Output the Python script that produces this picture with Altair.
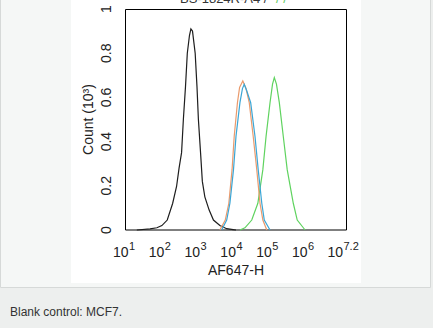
import altair as alt
import pandas as pd
import math

# ---- data (x in log10 units of AF647-H, y = count x10^3)
black_x = [1.33, 1.70, 1.89, 2.03, 2.18, 2.33, 2.44, 2.51, 2.58, 2.63, 2.69, 2.74, 2.80, 2.84,
           2.885, 2.96, 3.01, 3.05, 3.11, 3.16, 3.23, 3.35, 3.47, 3.65, 3.84, 4.02, 4.10]
black_y = [0.0, 0.005, 0.01, 0.02, 0.045, 0.12, 0.197, 0.28, 0.35, 0.5, 0.65, 0.80, 0.88, 0.91,
           0.90, 0.80, 0.65, 0.5, 0.35, 0.22, 0.15, 0.09, 0.045, 0.02, 0.006, 0.002, 0.0]

orange_x = [3.65, 3.80, 3.90, 3.99, 4.05, 4.14, 4.20, 4.29, 4.38, 4.47, 4.58, 4.68, 4.77, 4.85, 4.96]
orange_y = [0.0, 0.045, 0.121, 0.273, 0.424, 0.576, 0.645, 0.674, 0.64, 0.576, 0.424, 0.273, 0.121, 0.045, 0.0]

blue_x = [3.70, 3.84, 3.93, 4.03, 4.10, 4.21, 4.28, 4.33, 4.40, 4.51, 4.63, 4.72, 4.82, 4.89, 5.05]
blue_y = [0.0, 0.045, 0.121, 0.273, 0.424, 0.576, 0.64, 0.659, 0.63, 0.576, 0.424, 0.273, 0.121, 0.045, 0.0]

green_x = [4.21, 4.35, 4.54, 4.71, 4.85, 4.94, 5.05, 5.12, 5.17, 5.23, 5.31, 5.42, 5.53, 5.70, 5.81, 6.03]
green_y = [0.0, 0.01, 0.045, 0.121, 0.273, 0.424, 0.576, 0.66, 0.69, 0.66, 0.576, 0.424, 0.273, 0.121, 0.045, 0.0]

series_names = ["blank", "green", "orange", "blue"]
series_colors = ["#1e1e1e", "#5fd35f", "#ea9a6c", "#3aa6d6"]

x_tick_pos = [1, 2, 3, 4, 5, 6, 7.2]
x_tick_exp = ["1", "2", "3", "4", "5", "6", "7.2"]
y_tick_val = [0, 0.2, 0.4, 0.6, 0.8, 1]
y_tick_lab = ["0", "0.2", "0.4", "0.6", "0.8", "1"]

x_title = "AF647-H"
y_title = "Count (10³)"
caption = "Blank control: MCF7."
top_dark = "BS-1824R-A4 /"
top_green = "/ /"

FONT = "Liberation Sans"
W, H = 222, 221

rows = []
for name, xs, ys in [("blank", black_x, black_y), ("green", green_x, green_y),
                     ("orange", orange_x, orange_y), ("blue", blue_x, blue_y)]:
    for i, (a, b) in enumerate(zip(xs, ys)):
        rows.append({"series": name, "x": a, "y": b, "i": i})
curves = pd.DataFrame(rows)

x_major = [1, 2, 3, 4, 5, 6, 7, 7.2]
x_minor = [n + math.log10(k) for n in range(1, 7) for k in range(2, 10)]
y_ticks = [round(i * 0.04, 2) for i in range(26)]

xscale = alt.Scale(domain=[1, 7.2], nice=False, zero=False)
yscale = alt.Scale(domain=[0, 1], nice=False, zero=False)

one = pd.DataFrame({"a": [0]})

panel = alt.Chart(one).mark_rect(fill="#f5f7f6", stroke="#d6d9d8", strokeWidth=1).encode(
    x=alt.value(-124.5), x2=alt.value(305.5), y=alt.value(-20), y2=alt.value(278.5))
white = alt.Chart(one).mark_rect(fill="#ffffff").encode(
    x=alt.value(-54), x2=alt.value(236), y=alt.value(-20), y2=alt.value(274))
frame = alt.Chart(one).mark_rect(filled=False, stroke="black", strokeWidth=1).encode(
    x=alt.value(0.5), x2=alt.value(W - 0.5), y=alt.value(0.5), y2=alt.value(H))

lines = alt.Chart(curves).mark_line(strokeWidth=1.2).encode(
    x=alt.X("x:Q", scale=xscale, axis=alt.Axis(
        values=x_major + x_minor, labels=False, title=None, grid=False,
        domainColor="black", tickColor="black", zindex=1,
        tickSize={"condition": {"test": "abs(datum.value - round(datum.value)) < 0.001 || datum.value > 7.1",
                                "value": 6}, "value": 3})),
    y=alt.Y("y:Q", scale=yscale, axis=alt.Axis(
        values=y_ticks, labels=False, title=None, grid=False,
        domainColor="black", tickColor="black", zindex=1,
        tickSize={"condition": {"test": "abs(datum.value * 5 - round(datum.value * 5)) < 0.001",
                                "value": 6}, "value": 3})),
    color=alt.Color("series:N", scale=alt.Scale(domain=series_names, range=series_colors), legend=None),
    order="i:Q",
)

xl = pd.DataFrame({"pos": x_tick_pos, "sup": x_tick_exp})
xl_single = alt.Chart(xl).transform_filter("datum.sup != '7.2'")
xl_last = alt.Chart(xl).transform_filter("datum.sup == '7.2'")
enc_x = alt.X("pos:Q", scale=xscale, axis=None)

ten1 = xl_single.mark_text(align="right", dx=3.5, fontSize=14, font=FONT, color="#222").encode(
    x=enc_x, y=alt.value(H + 23), text=alt.value("10"))
sup1 = xl_single.mark_text(align="left", dx=4, fontSize=11, font=FONT, color="#222").encode(
    x=enc_x, y=alt.value(H + 16.5), text="sup:N")
ten2 = xl_last.mark_text(align="right", dx=-4, fontSize=14, font=FONT, color="#222").encode(
    x=enc_x, y=alt.value(H + 23), text=alt.value("10"))
sup2 = xl_last.mark_text(align="left", dx=-3.5, fontSize=11, font=FONT, color="#222").encode(
    x=enc_x, y=alt.value(H + 16.5), text="sup:N")

yl = pd.DataFrame({"val": y_tick_val, "lab": y_tick_lab})
ylabels = alt.Chart(yl).mark_text(angle=270, align="center", baseline="alphabetic",
                                  fontSize=14, font=FONT, color="#222").encode(
    x=alt.value(-14.5), y=alt.Y("val:Q", scale=yscale, axis=None), text="lab:N")

ytitle = alt.Chart(one).mark_text(angle=270, align="center", baseline="alphabetic",
                                  fontSize=14, font=FONT, color="#222").encode(
    x=alt.value(-32), y=alt.value(H / 2), text=alt.value(y_title))
xtitle = alt.Chart(one).mark_text(align="center", baseline="alphabetic",
                                  fontSize=14, font=FONT, color="#222").encode(
    x=alt.value(W / 2), y=alt.value(266), text=alt.value(x_title))
cap = alt.Chart(one).mark_text(align="left", baseline="alphabetic",
                               fontSize=12, font=FONT, color="#333").encode(
    x=alt.value(-115), y=alt.value(306.5), text=alt.value(caption))
top1 = alt.Chart(one).mark_text(align="left", baseline="alphabetic",
                                fontSize=13, font=FONT, color="#333").encode(
    x=alt.value(55), y=alt.value(-6), text=alt.value(top_dark))
top2 = alt.Chart(one).mark_text(align="left", baseline="alphabetic",
                                fontSize=13, font=FONT, color="#66cc66").encode(
    x=alt.value(151), y=alt.value(-6), text=alt.value(top_green))

chart = alt.layer(
    panel, white, top1, top2, frame, lines, ten1, sup1, ten2, sup2, ylabels, ytitle, xtitle, cap
).properties(
    width=W, height=H,
    autosize=alt.AutoSizeParams(type="none"),
    padding={"left": 125, "top": 9, "right": 86, "bottom": 98},
    background="#edefee",
).configure_view(stroke=None, fill="white")

chart.save("out.html", embed_options={"renderer": "svg", "actions": False})
